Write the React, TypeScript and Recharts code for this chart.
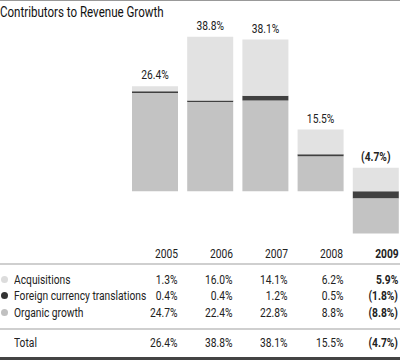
import { BarChart, Bar, XAxis, YAxis, LabelList } from 'recharts';

const years = ['2005', '2006', '2007', '2008', '2009'];
const acquisitions = [1.3, 16.0, 14.1, 6.2, 5.9];
const currency = [0.4, 0.4, 1.2, 0.5, -1.8];
const organic = [24.7, 22.4, 22.8, 8.8, -8.8];
const totals = [26.4, 38.8, 38.1, 15.5, -4.7];

const fmt = (v: number) => (v < 0 ? `(${Math.abs(v).toFixed(1)}%)` : `${v.toFixed(1)}%`);

// organic is split so positive years sit at the bottom and negative years go under the currency slice
const chartData = years.map((year, i) => ({
  year,
  organicUp: organic[i] >= 0 ? organic[i] : 0,
  currency: currency[i],
  organicDown: organic[i] < 0 ? organic[i] : 0,
  acquisitions: acquisitions[i],
  total: totals[i],
}));

const FONT = 'Roboto, sans-serif';
const SQUEEZE = 0.82; // no condensed face installed, so narrow the glyphs
const LEFT = 127;
const BAND = 55.2;
const colRight = (i: number) => LEFT + BAND * (i + 0.5) + 23;

const TotalLabel = (props: any) => {
  const { x, y, width, value, index } = props;
  const cx = Number(x) + Number(width) / 2;
  return (
    <text
      transform={`translate(${cx},${Number(y) - 7}) scale(${SQUEEZE},1)`}
      textAnchor="middle"
      fontSize={12.5}
      fontFamily={FONT}
      fontWeight={index === years.length - 1 ? 700 : 400}
      fill="#222"
    >
      {fmt(value)}
    </text>
  );
};

const rows = [
  { label: 'Acquisitions', dot: '#dcdcdc', values: acquisitions },
  { label: 'Foreign currency translations', dot: '#333', values: currency },
  { label: 'Organic growth', dot: '#c0c0c0', values: organic },
];

const txt: React.CSSProperties = {
  position: 'absolute',
  fontSize: 12.5,
  color: '#222',
  lineHeight: '14px',
  whiteSpace: 'nowrap',
  transform: `scaleX(${SQUEEZE})`,
};
const leftTxt: React.CSSProperties = { ...txt, transformOrigin: 'left center' };
const rightTxt: React.CSSProperties = { ...txt, transformOrigin: 'right center' };

export default function App() {
  return (
    <div style={{ position: 'relative', width: 400, height: 361, overflow: 'hidden', fontFamily: FONT, background: '#fff' }}>
      <style>{`body{margin:0}`}</style>
      <div style={{ position: 'absolute', left: 0, top: 0, width: 400, height: 1, background: '#999' }} />
      <div style={{ ...leftTxt, left: 0, top: 4, fontSize: 14, lineHeight: '16px', color: '#111', transform: 'scaleX(0.825)' }}>
        Contributors to Revenue Growth
      </div>

      <div style={{ position: 'absolute', left: 0, top: 0 }}>
        <BarChart width={403} height={240} data={chartData} stackOffset="sign" margin={{ top: 32, right: 0, bottom: 1, left: LEFT }}>
          <XAxis dataKey="year" hide />
          <YAxis hide domain={[-12, 40]} />
          <Bar dataKey="organicUp" stackId="a" fill="#c3c3c3" barSize={46} isAnimationActive={false} />
          <Bar dataKey="currency" stackId="a" fill="#404040" barSize={46} isAnimationActive={false} />
          <Bar dataKey="organicDown" stackId="a" fill="#c3c3c3" barSize={46} isAnimationActive={false} />
          <Bar dataKey="acquisitions" stackId="a" fill="#e2e2e2" barSize={46} isAnimationActive={false}>
            <LabelList dataKey="total" content={TotalLabel} />
          </Bar>
        </BarChart>
      </div>

      {years.map((y, i) => (
        <div key={y} style={{ ...rightTxt, top: 247, right: 400 - colRight(i), fontWeight: i === 4 ? 700 : 400 }}>{y}</div>
      ))}
      <div style={{ position: 'absolute', left: 0, top: 263, width: 400, height: 2, background: '#cfcfcf' }} />

      {rows.map((r, ri) => (
        <div key={r.label}>
          <div style={{ position: 'absolute', left: 1, top: 276 + ri * 16.3, width: 7, height: 7, borderRadius: 4, background: r.dot }} />
          <div style={{ ...leftTxt, left: 14, top: 273 + ri * 16.3 }}>{r.label}</div>
          {r.values.map((v, i) => (
            <div key={i} style={{ ...rightTxt, top: 273 + ri * 16.3, right: 400 - colRight(i), fontWeight: i === 4 ? 700 : 400 }}>{fmt(v)}</div>
          ))}
        </div>
      ))}
      <div style={{ position: 'absolute', left: 0, top: 328, width: 400, height: 2, background: '#cfcfcf' }} />

      <div style={{ ...leftTxt, left: 14, top: 336 }}>Total</div>
      {totals.map((v, i) => (
        <div key={i} style={{ ...rightTxt, top: 336, right: 400 - colRight(i), fontWeight: i === 4 ? 700 : 400 }}>{fmt(v)}</div>
      ))}
      <div style={{ position: 'absolute', left: 0, top: 357, width: 400, height: 3, background: '#444' }} />
    </div>
  );
}
